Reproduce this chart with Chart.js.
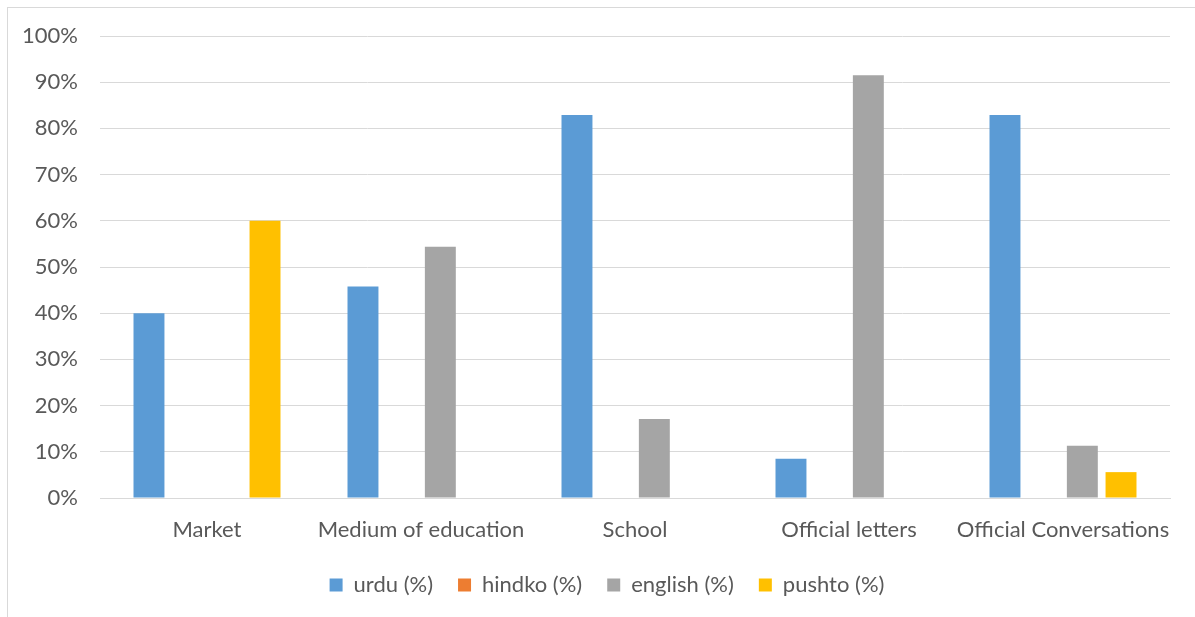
<!DOCTYPE html>
<html><head><meta charset="utf-8">
<script src="https://cdn.jsdelivr.net/npm/chart.js@4/dist/chart.umd.min.js"></script>
<style>
html,body{margin:0;padding:0;background:#fff;}
#wrap{position:relative;width:1195px;height:617px;overflow:hidden;}
#frame{position:absolute;left:7px;top:7px;width:1200px;height:700px;border-left:1px solid #d9d9d9;border-top:1px solid #d9d9d9;pointer-events:none;}
canvas{position:absolute;left:0;top:0;}
</style></head>
<body><div id="wrap"><canvas id="c" width="1195" height="617"></canvas><div id="frame"></div></div>
<script>
const categories = ["Market", "Medium of education", "School", "Official letters", "Official Conversations"];
const urdu = [40, 45.8, 82.9, 8.5, 82.9];
const hindko = [0, 0, 0, 0, 0];
const english = [0, 54.4, 17.1, 91.5, 11.3];
const pushto = [60, 0, 0, 0, 5.6];
const yTicks = [0,10,20,30,40,50,60,70,80,90,100];

const FONT = "Lato, 'Open Sans', sans-serif";
Chart.defaults.font.family = FONT;
Chart.defaults.color = '#595959';

const legendShift = {
  id: 'legendShift',
  afterLayout(chart) {
    const lg = chart.legend;
    if (lg) { lg.left += 17; lg.right += 17; }
  }
};

new Chart(document.getElementById('c'), {
  type: 'bar',
  data: {
    labels: categories,
    datasets: [
      {label: 'urdu (%)', data: urdu, backgroundColor: '#5B9BD5'},
      {label: 'hindko (%)', data: hindko, backgroundColor: '#ED7D31'},
      {label: 'english (%)', data: english, backgroundColor: '#A5A5A5'},
      {label: 'pushto (%)', data: pushto, backgroundColor: '#FFC000'}
    ]
  },
  plugins: [legendShift],
  options: {
    responsive: false,
    animation: false,
    datasets: {bar: {categoryPercentage: 0.723, barPercentage: 0.80}},
    layout: {padding: {left: 10, right: 25, top: 36, bottom: 11}},
    plugins: {
      legend: {
        position: 'bottom',
        labels: {boxWidth: 13, boxHeight: 13, padding: 25, font: {size: 22}, color: '#595959'}
      },
      tooltip: {enabled: false}
    },
    scales: {
      x: {
        afterFit: (s) => { s.height = 51; },
        grid: {display: false, drawTicks: false},
        border: {display: true, color: '#d9d9d9', width: 1},
        ticks: {font: {size: 22}, color: '#595959', padding: 19, maxRotation: 0, autoSkip: false}
      },
      y: {
        min: 0, max: 100,
        afterFit: (s) => { s.width = 90; },
        afterBuildTicks: (s) => { s.ticks = yTicks.map(v => ({value: v})); },
        grid: {color: '#d9d9d9', lineWidth: 1, drawTicks: false},
        border: {display: false},
        ticks: {font: {size: 22}, color: '#595959', padding: 22, callback: (v) => v + '%'}
      }
    }
  }
});
</script></body></html>
